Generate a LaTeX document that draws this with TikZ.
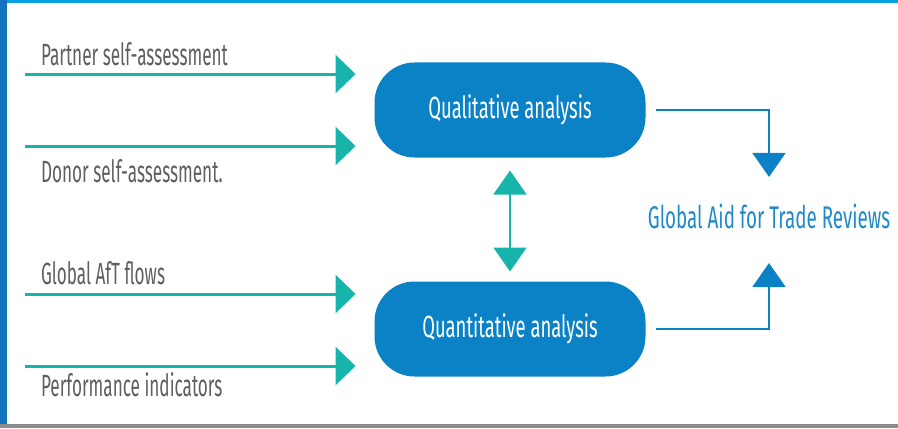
\documentclass[tikz,border=0pt]{standalone}
\usepackage{fontspec}
\setmainfont{Fira Sans}[FakeStretch=0.6]
\newfontfamily\labelfont{Fira Sans}[FakeStretch=0.56]
\usetikzlibrary{arrows.meta,positioning}

\definecolor{boxblue}{RGB}{12,130,198}
\definecolor{aftteal}{RGB}{22,180,170}
\definecolor{revblue}{RGB}{30,138,200}
\definecolor{labelgray}{RGB}{95,95,95}
\definecolor{frametop}{RGB}{8,160,225}
\definecolor{frameleft}{RGB}{18,115,190}
\definecolor{framegray}{RGB}{140,140,140}

\begin{document}
\begin{tikzpicture}[x=0.75pt,y=-0.75pt,outer sep=0pt,node distance=93pt,
	analysis/.style={fill=boxblue,text=white,rounded corners=30pt,minimum width=203.25pt,minimum height=71.25pt,inner sep=0pt,font=\fontsize{23}{25}\selectfont},
	source/.style={text=labelgray,inner sep=0pt,anchor=base west,font=\labelfont\fontsize{23}{25}\selectfont},
	feed/.style={draw=aftteal,line width=2.25pt,-{Triangle[length=15pt,width=28.5pt]},shorten >=14.25pt},
	link/.style={draw=aftteal,line width=1.5pt,{Triangle[length=18pt,width=24.75pt]}-{Triangle[length=18pt,width=24.75pt]},shorten <=9.75pt,shorten >=7.5pt},
	result/.style={draw=boxblue,line width=1.5pt,-{Triangle[length=18pt,width=24.75pt]},shorten <=7.5pt}]
\useasboundingbox (0,0) rectangle (898,428);
% frame
\fill[frametop] (0,0) rectangle (898,3);
\fill[frameleft] (0,0) rectangle (7,424);
\fill[framegray] (0,424) rectangle (898,428);

\node[analysis] (qual) at (510,110) {Qualitative analysis};
\node[analysis] (quan) [below=of qual] {Quantitative analysis};
\node[text=revblue,inner sep=0pt,anchor=base,text height=16pt,text depth=0pt,font=\fontsize{23.5}{25}\selectfont] (reviews) at (769,228) {Global Aid for Trade Reviews};

\coordinate (in1) at (25,74);
\coordinate (in2) at (25,146);
\coordinate (in3) at (25,294);
\coordinate (in4) at (25,366);

\node[source] (partner) at (41,65) {Partner self-assessment};
\node[source] (donor) at (41,182) {Donor self-assessment.};
\node[source] (flows) at (41,284) {Global AfT flows};
\node[source] (perf) at (41,396) {Performance indicators};

\draw[feed] (in1) -- (qual.west |- in1);
\draw[feed] (in2) -- (qual.west |- in2);
\draw[feed] (in3) -- (quan.west |- in3);
\draw[feed] (in4) -- (quan.west |- in4);

\draw[link] (qual.south) -- (quan.north);

\draw[result,shorten >=22.3pt] (qual.east) -| (reviews.north);
\draw[result,shorten >=26.25pt] (quan.east) -| (reviews.south);
\end{tikzpicture}
\end{document}
